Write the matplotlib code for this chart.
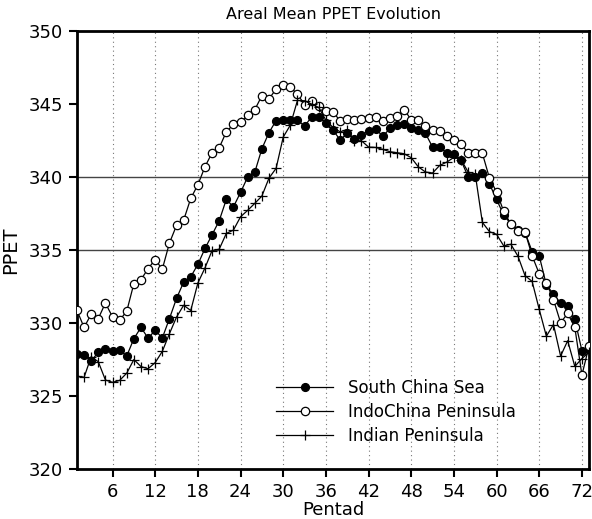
import numpy as np
import matplotlib
matplotlib.use("Agg")
import matplotlib.pyplot as plt

# pentads 1..73
pentad = np.arange(1, 74)

# South China Sea (filled circles)
scs = [327.88, 327.81, 327.40, 328.00, 328.20, 328.06, 328.15, 327.74, 328.93, 329.70,
       328.97, 329.50, 328.98, 330.30, 331.69, 332.80, 333.17, 334.02, 335.11, 336.05,
       337.01, 338.47, 337.96, 338.95, 340.00, 340.33, 341.94, 343.05, 343.87, 343.92,
       343.92, 343.92, 343.49, 344.13, 344.12, 343.74, 343.22, 342.55, 342.99, 342.59,
       342.90, 343.15, 343.30, 342.80, 343.33, 343.60, 343.65, 343.35, 343.22, 343.00,
       342.05, 342.05, 341.66, 341.56, 341.15, 340.03, 340.00, 340.25, 339.53, 338.47,
       337.40, 336.80, 336.35, 336.20, 334.90, 334.60, 332.60, 332.00, 331.35, 331.20,
       330.25, 328.10, 328.20]

# IndoChina Peninsula (open circles)
icp = [330.87, 329.70, 330.61, 330.31, 331.37, 330.42, 330.20, 330.81, 332.70, 332.97,
       333.73, 334.35, 333.69, 335.48, 336.69, 337.05, 338.54, 339.47, 340.71, 341.67,
       342.01, 343.10, 343.61, 343.78, 344.23, 344.61, 345.58, 345.36, 346.03, 346.30,
       346.16, 345.68, 344.97, 345.20, 344.90, 344.54, 344.47, 343.85, 343.96, 343.88,
       343.98, 344.04, 344.10, 343.86, 344.02, 344.16, 344.63, 343.92, 343.88, 343.49,
       343.20, 343.18, 342.82, 342.55, 342.27, 341.66, 341.66, 341.63, 339.93, 338.97,
       337.66, 336.78, 336.33, 336.25, 334.60, 333.38, 332.76, 331.60, 330.03, 330.66,
       329.70, 326.44, 328.42]

# Indian Peninsula (plus)
inp = [326.37, 326.28, 327.70, 327.35, 326.10, 325.94, 326.07, 326.57, 327.50, 327.02,
       326.87, 327.29, 328.06, 329.27, 330.41, 331.22, 330.86, 332.74, 333.78, 334.97,
       335.06, 336.14, 336.37, 337.28, 337.72, 338.20, 338.70, 339.93, 340.60, 342.74,
       343.56, 345.25, 345.23, 345.00, 344.77, 343.90, 343.40, 343.10, 343.26, 342.49,
       342.49, 342.06, 342.03, 341.90, 341.74, 341.67, 341.60, 341.33, 340.70, 340.35,
       340.28, 340.80, 341.03, 341.35, 341.20, 340.35, 340.20, 336.90, 336.26, 336.08,
       335.29, 335.40, 334.59, 333.25, 332.85, 330.93, 329.10, 329.90, 327.74, 328.79,
       327.03, 327.57, 328.00]

xticks = list(range(6, 73, 6))
yticks = [320, 325, 330, 335, 340, 345, 350]
hlines = [335, 340]

fig = plt.figure(figsize=(5.92, 5.19), dpi=100)
ax = fig.add_axes([0.130, 0.0963, 0.865, 0.8437])

# grid: dotted verticals, solid horizontals at 335 / 340
for xv in xticks:
    ax.axvline(xv, color='#777777', lw=0.8, ls=(0, (1, 3)), zorder=1)
for yv in hlines:
    ax.axhline(yv, color='#444444', lw=1.0, zorder=1)

ax.plot(pentad, scs, '-o', color='black', lw=0.9, ms=5.6, mfc='black',
        mec='black', label='South China Sea', zorder=3)
ax.plot(pentad, icp, '-o', color='black', lw=0.9, ms=6.0, mfc='white',
        mec='black', mew=0.9, label='IndoChina Peninsula', zorder=4)
ax.plot(pentad, inp, '-+', color='black', lw=0.9, ms=6.5, mew=0.9,
        label='Indian Peninsula', zorder=5)

ax.set_xlim(1, 73)
ax.set_ylim(320, 350)
ax.set_xticks(xticks)
ax.set_yticks(yticks)
ax.tick_params(axis='both', direction='out', length=6, width=1.5,
               labelsize=13, pad=4)
ax.tick_params(top=False, right=False)
for s in ax.spines.values():
    s.set_linewidth(2)

ax.set_xlabel('Pentad', fontsize=13, labelpad=0)
ax.set_ylabel('PPET', fontsize=14, labelpad=6)
ax.set_title('Areal Mean PPET Evolution', fontsize=11.5, pad=9)

leg = ax.legend(loc='center left', bbox_to_anchor=(0.36, 0.13), frameon=False,
                fontsize=12, handlelength=3.4, numpoints=1, labelspacing=0.35,
                handletextpad=0.9)

fig.savefig('out.png', dpi=100)
